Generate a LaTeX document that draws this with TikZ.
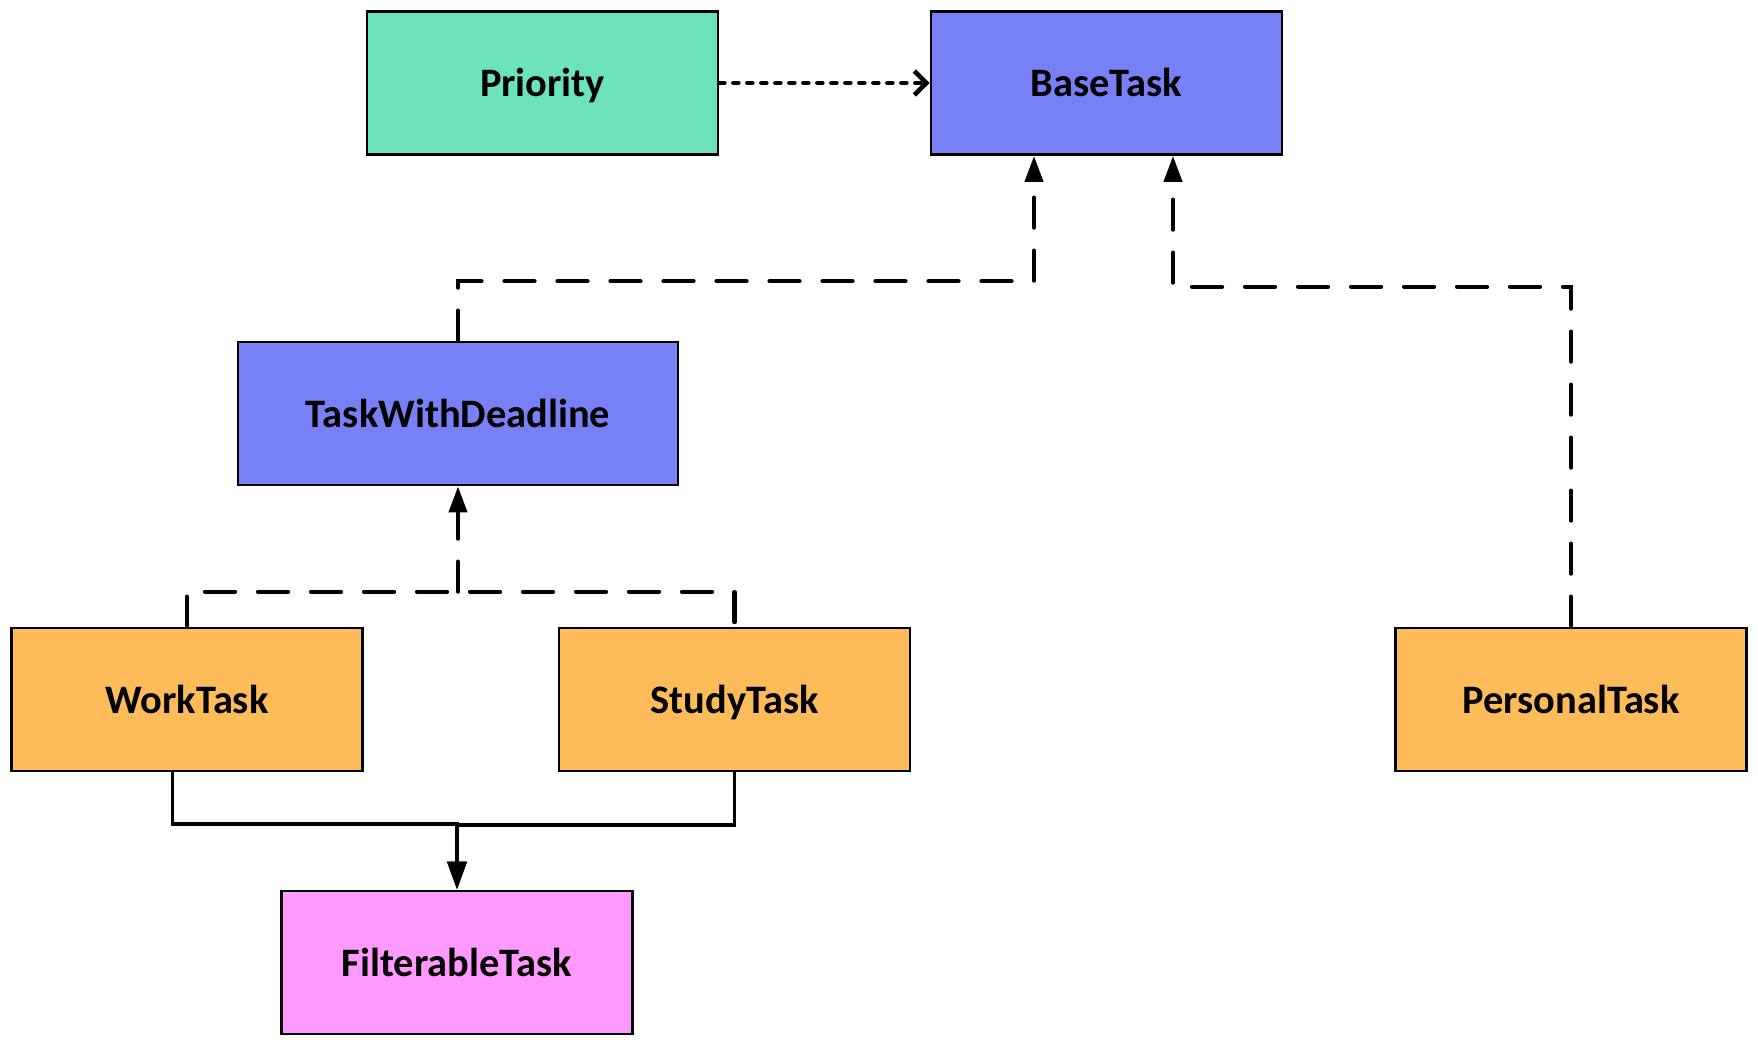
\documentclass[tikz,border=0pt]{standalone}
\usepackage{fontspec}
\setmainfont{Carlito}
\usetikzlibrary{arrows.meta}
\definecolor{prioritygreen}{RGB}{108,227,187}
\definecolor{taskblue}{RGB}{120,128,245}
\definecolor{taskorange}{RGB}{253,187,90}
\definecolor{taskpink}{RGB}{255,153,253}
\tikzset{
  classbox/.style = {draw = black, line width = 0.8pt, minimum width = 3.51cm, minimum height = 1.43cm, inner sep = 0pt, text height = 0.9em, text depth = 0.12em, font = \fontsize{11.5}{13}\selectfont\bfseries},
  realizes/.style = {line width = 1.2pt, line cap = round, dash pattern = on 0.3cm off 0.23cm, -{Triangle[length = 0.26cm, width = 0.18cm]}},
  realizesline/.style = {line width = 1.2pt, line cap = round, dash pattern = on 0.3cm off 0.23cm},
  uses/.style = {line width = 1.3pt, line cap = round, dash pattern = on 0.05cm off 0.09cm, -{Straight Barb[length = 1.2mm, width = 2.4mm]}},
  composes/.style = {line width = 1.1pt, -{Triangle[length = 0.28cm, width = 0.19cm]}}
}
\begin{document}
\begin{tikzpicture}
\useasboundingbox (0,0) rectangle (17.58,-10.47);
\node [classbox, fill = prioritygreen] (priority) at (5.425,-0.83) {Priority};
\node [classbox, fill = taskblue] (basetask) at (11.065,-0.83) {BaseTask};
\node [classbox, fill = taskblue, minimum width = 4.4cm] (deadline) at (4.58,-4.135) {TaskWithDeadline};
\node [classbox, fill = taskorange] (worktask) at (1.87,-6.995) {WorkTask};
\node [classbox, fill = taskorange] (studytask) at (7.345,-6.995) {StudyTask};
\node [classbox, fill = taskorange] (personaltask) at (15.71,-6.995) {PersonalTask};
\node [classbox, fill = taskpink] (filterable) at (4.57,-9.625) {FilterableTask};
\draw [uses] (priority) -- (basetask);
\draw [realizes] (deadline.north) -- ++(0,0.595) -| ([xshift = -0.725cm]basetask.south);
\draw [realizes] (personaltask.north) -- ++(0,3.4) -| ([xshift = 0.665cm]basetask.south);
\draw [realizesline] (worktask.north) -- ++(0,0.35) coordinate (workjoin) -| (studytask.north);
\draw [realizes] (deadline.south |- workjoin) -- (deadline.south);
\draw [composes] ([xshift = -0.145cm]worktask.south) -- ++(0,-0.52) -| (filterable.north);
\draw [composes] (studytask.south) -- ++(0,-0.53) -| (filterable.north);
\end{tikzpicture}
\end{document}
